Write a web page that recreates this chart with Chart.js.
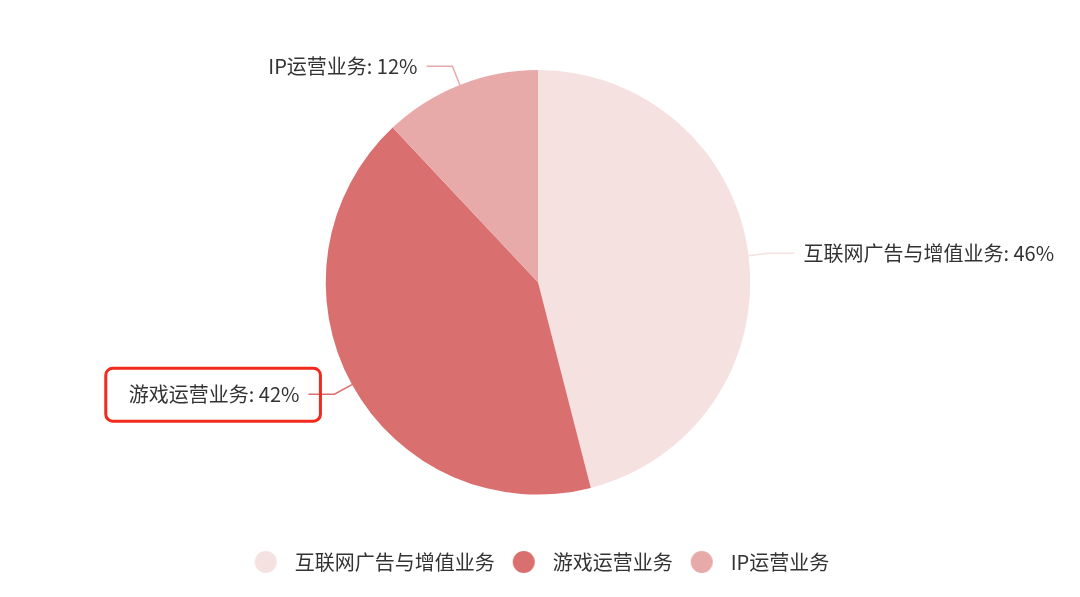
<!DOCTYPE html>
<html>
<head>
<meta charset="utf-8">
<script src="https://cdn.jsdelivr.net/npm/chart.js@4"></script>
<style>
    html, body { margin: 0; padding: 0; background: #fff; }
    #wrap { width: 1080px; height: 597px; }
</style>
</head>
<body>
<div id="wrap"><canvas id="pieChart"></canvas></div>
<script>
const categories = ['互联网广告与增值业务', '游戏运营业务', 'IP运营业务'];
const shares = [46, 42, 12];
const sliceColors = ['#f6e1e1', '#d96f6e', '#e8a9a9'];
const highlighted = '游戏运营业务';

const FONT = '"PingFang SC", "Noto Sans CJK SC", "Noto Sans", sans-serif';

// round legend dots (image point style keeps them round with a wide box)
const makeDot = (color) => {
    const c = document.createElement('canvas');
    c.width = 24;
    c.height = 24;
    const g = c.getContext('2d');
    g.fillStyle = color;
    g.beginPath();
    g.arc(12, 12, 11, 0, Math.PI * 2);
    g.fill();
    return c;
};
const dots = sliceColors.map(makeDot);

// labels outside the pie with a bent leader line
const outsideLabels = {
    id: 'outsideLabels',
    afterDatasetsDraw(chart) {
        const ctx = chart.ctx;
        const meta = chart.getDatasetMeta(0);
        ctx.save();
        ctx.font = '20px ' + FONT;
        ctx.textBaseline = 'middle';
        meta.data.forEach((arc, i) => {
            const {x, y, startAngle, endAngle, outerRadius} = arc.getProps(['x', 'y', 'startAngle', 'endAngle', 'outerRadius'], true);
            const mid = (startAngle + endAngle) / 2;
            const cos = Math.cos(mid), sin = Math.sin(mid);
            const p0 = {x: x + cos * outerRadius, y: y + sin * outerRadius};
            const p1 = {x: x + cos * (outerRadius + 20), y: y + sin * (outerRadius + 20)};
            const right = cos >= 0;
            const p2 = {x: p1.x + (right ? 26 : -26), y: p1.y};

            ctx.strokeStyle = sliceColors[i];
            ctx.lineWidth = 1.5;
            ctx.beginPath();
            ctx.moveTo(p0.x, p0.y);
            ctx.lineTo(p1.x, p1.y);
            ctx.lineTo(p2.x, p2.y);
            ctx.stroke();

            const text = categories[i] + ': ' + shares[i] + '%';
            const tx = p2.x + (right ? 9 : -9);
            ctx.fillStyle = '#333';
            ctx.textAlign = right ? 'left' : 'right';
            ctx.fillText(text, tx, p2.y);

            if (categories[i] === highlighted) {
                const w = ctx.measureText(text).width;
                const left = right ? tx : tx - w;
                ctx.strokeStyle = '#f22a1e';
                ctx.lineWidth = 3;
                ctx.beginPath();
                ctx.roundRect(left - 23, p2.y - 26, w + 44, 53, 7);
                ctx.stroke();
            }
        });
        ctx.restore();
    }
};

const ctx = document.getElementById('pieChart').getContext('2d');
const pieChart = new Chart(ctx, {
    type: 'pie',
    data: {
        labels: categories,
        datasets: [{
            data: shares,
            backgroundColor: sliceColors,
            borderWidth: 0
        }]
    },
    options: {
        responsive: true,
        maintainAspectRatio: false,
        animation: false,
        layout: {
            padding: { top: 70, bottom: 15, left: 0, right: 4 }
        },
        plugins: {
            tooltip: { enabled: false },
            legend: {
                position: 'bottom',
                title: {
                    display: true,
                    text: '',
                    padding: { top: 33, bottom: 0 }
                },
                labels: {
                    usePointStyle: true,
                    pointStyleWidth: 38,
                    padding: 10,
                    color: '#333',
                    font: { size: 20, family: FONT },
                    generateLabels: () => categories.map((name, i) => ({
                        text: name,
                        fillStyle: sliceColors[i],
                        strokeStyle: sliceColors[i],
                        lineWidth: 0,
                        pointStyle: dots[i],
                        fontColor: '#333',
                        hidden: false,
                        index: i
                    }))
                }
            }
        }
    },
    plugins: [outsideLabels]
});
</script>
</body>
</html>
